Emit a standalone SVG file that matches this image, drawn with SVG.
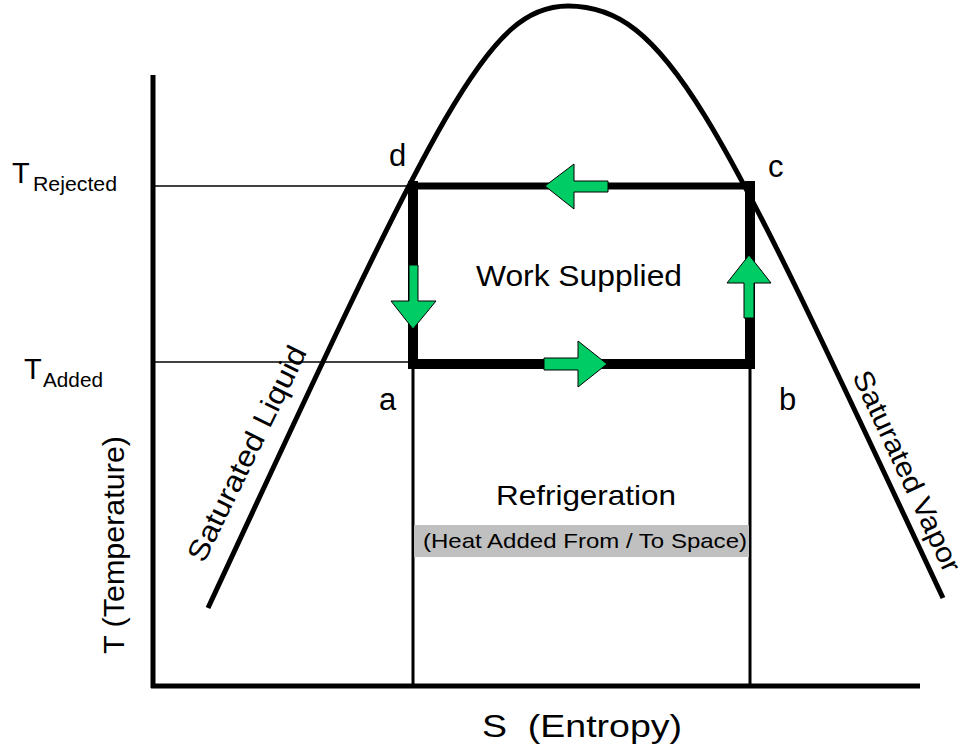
<svg xmlns="http://www.w3.org/2000/svg" width="961" height="748" viewBox="0 0 961 748">
<style>
text{font-family:"Liberation Sans",Arial,sans-serif;fill:#000}
.thin{stroke:#000;stroke-width:1.5;fill:none}
.axis{stroke:#000;stroke-width:5;fill:none}
.cyc{stroke:#000;fill:none;stroke-linecap:square}
.arr{fill:#00CC66;stroke:#000;stroke-width:1}
.lbl{font-size:31px}
</style>
<rect width="961" height="748" fill="#fff"/>
<g id="guides">
<line class="thin" x1="155" y1="186" x2="412" y2="186"/>
<line class="thin" x1="155" y1="362" x2="413" y2="362"/>
<line x1="413" y1="364" x2="413" y2="686" stroke="#000" stroke-width="3"/>
<line x1="750" y1="364" x2="750" y2="686" stroke="#000" stroke-width="3"/>
</g>
<g id="band">
<rect x="414" y="525" width="335" height="32" fill="#C0C0C0"/>
<text x="423" y="548" font-size="21" textLength="324" lengthAdjust="spacingAndGlyphs">(Heat Added From / To Space)</text>
</g>
<g id="axes">
<line class="axis" x1="153" y1="75" x2="153" y2="688"/>
<line class="axis" x1="151" y1="686" x2="920" y2="686"/>
</g>
<g id="dome">
<path d="M208,608 C440,108 488,6 568,6 C668,6 718,118 943,598" fill="none" stroke="#000" stroke-width="5"/>
</g>
<g id="cycle">
<line class="cyc" x1="413" y1="186" x2="750" y2="186" stroke-width="7"/>
<line class="cyc" x1="413" y1="186" x2="413" y2="364" stroke-width="10"/>
<line class="cyc" x1="413" y1="364" x2="750" y2="364" stroke-width="10"/>
<line class="cyc" x1="750" y1="186" x2="750" y2="364" stroke-width="10"/>
</g>
<g id="arrows">
<polygon class="arr" points="545,186 574,164 574,181 608,181 608,192 574,192 574,209"/>
<polygon class="arr" points="413,329 391,301 409,301 409,265 418,265 418,301 436,301"/>
<polygon class="arr" points="607,364 578,341 578,358 544,358 544,370 578,370 578,387"/>
<polygon class="arr" points="749,255 771,283 754,283 754,318 744,318 744,283 727,283"/>
</g>
<g id="points">
<text class="lbl" x="389" y="166">d</text>
<text class="lbl" x="768" y="177">c</text>
<text class="lbl" x="379" y="410">a</text>
<text class="lbl" x="779" y="410">b</text>
</g>
<g id="region-labels">
<text x="476" y="286" font-size="29" textLength="206" lengthAdjust="spacingAndGlyphs">Work Supplied</text>
<text x="496" y="505" font-size="28.5" textLength="180" lengthAdjust="spacingAndGlyphs">Refrigeration</text>
</g>
<g id="temps">
<text x="12" y="183" font-size="29">T<tspan x="33" y="191" font-size="20" textLength="84" lengthAdjust="spacingAndGlyphs">Rejected</tspan></text>
<text x="24" y="379" font-size="29">T<tspan x="43" y="387" font-size="20" textLength="60" lengthAdjust="spacingAndGlyphs">Added</tspan></text>
</g>
<g id="curve-labels">
<text transform="translate(204,564) rotate(-64)" font-size="29" textLength="236" lengthAdjust="spacingAndGlyphs">Saturated Liquid</text>
<text transform="translate(852,376) rotate(65)" font-size="28" textLength="219" lengthAdjust="spacingAndGlyphs">Saturated Vapor</text>
</g>
<g id="axis-labels">
<text transform="translate(124,654) rotate(-90)" font-size="30" textLength="218" lengthAdjust="spacingAndGlyphs">T (Temperature)</text>
<text x="482" y="737" font-size="32" xml:space="preserve" textLength="200" lengthAdjust="spacingAndGlyphs">S  (Entropy)</text>
</g>
</svg>
